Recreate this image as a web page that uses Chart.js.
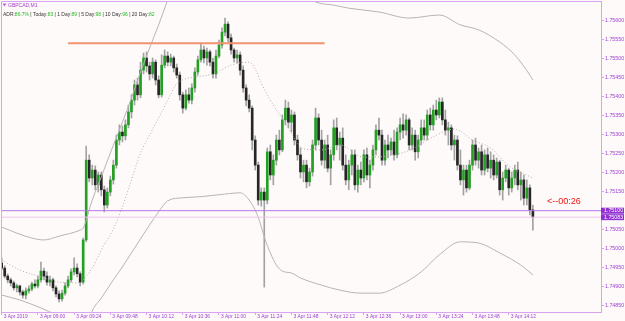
<!DOCTYPE html>
<html><head><meta charset="utf-8">
<script src="https://cdn.jsdelivr.net/npm/chart.js@4.4.0/dist/chart.umd.min.js"></script>
<style>html,body{margin:0;padding:0;background:#fffafa;overflow:hidden}canvas{display:block;background:#fffafa}</style>
</head><body>
<canvas id="c" width="625" height="321"></canvas>
<script>
// ---- data (GBPCAD, 2-minute candles, 3 Apr 2019 08:36 .. 14:28) ----
const opens=[
1.74962,1.74949,1.74928,1.74918,1.74910,1.74897,1.74902,1.74886,1.74878,1.74889,
1.74894,1.74907,1.74902,1.74918,1.74941,1.74928,1.74912,1.74918,1.74897,1.74881,
1.74868,1.74883,1.74902,1.74918,1.74939,1.74949,1.74934,1.74912,1.75023,1.75233,
1.75186,1.75207,1.75168,1.75194,1.75155,1.75115,1.75149,1.75181,1.75220,1.75286,
1.75307,1.75297,1.75326,1.75360,1.75391,1.75431,1.75405,1.75470,1.75502,1.75481,
1.75460,1.75491,1.75444,1.75405,1.75483,1.75507,1.75491,1.75502,1.75476,1.75457,
1.75405,1.75370,1.75405,1.75391,1.75423,1.75465,1.75497,1.75523,1.75502,1.75518,
1.75491,1.75460,1.75507,1.75536,1.75570,1.75591,1.75555,1.75523,1.75502,1.75510,
1.75470,1.75423,1.75391,1.75370,1.75286,1.75220,1.75128,1.75149,1.75128,1.75255,
1.75194,1.75233,1.75286,1.75260,1.75339,1.75370,1.75333,1.75352,1.75286,1.75247,
1.75202,1.75220,1.75176,1.75202,1.75273,1.75344,1.75286,1.75233,1.75273,1.75212,
1.75247,1.75318,1.75273,1.75291,1.75220,1.75181,1.75220,1.75247,1.75168,1.75207,
1.75186,1.75247,1.75194,1.75220,1.75260,1.75312,1.75299,1.75233,1.75273,1.75260,
1.75281,1.75247,1.75307,1.75326,1.75312,1.75339,1.75273,1.75299,1.75255,1.75286,
1.75318,1.75299,1.75352,1.75326,1.75365,1.75352,1.75386,1.75339,1.75312,1.75318,
1.75273,1.75286,1.75220,1.75181,1.75207,1.75160,1.75220,1.75273,1.75233,1.75255,
1.75207,1.75247,1.75212,1.75233,1.75194,1.75228,1.75155,1.75186,1.75207,1.75160,
1.75186,1.75207,1.75168,1.75181,1.75133,1.75160,1.75102];
const highs=[
1.74976,1.74955,1.74934,1.74923,1.74915,1.74907,1.74904,1.74891,1.74897,1.74902,
1.74912,1.74918,1.74928,1.74965,1.74949,1.74939,1.74928,1.74923,1.74902,1.74889,
1.74891,1.74910,1.74928,1.74947,1.74976,1.74960,1.74939,1.75028,1.75270,1.75247,
1.75220,1.75218,1.75202,1.75202,1.75165,1.75160,1.75191,1.75233,1.75299,1.75326,
1.75323,1.75339,1.75378,1.75405,1.75444,1.75449,1.75491,1.75515,1.75518,1.75491,
1.75502,1.75497,1.75455,1.75510,1.75523,1.75518,1.75512,1.75507,1.75486,1.75465,
1.75412,1.75418,1.75423,1.75434,1.75476,1.75507,1.75541,1.75533,1.75528,1.75523,
1.75502,1.75523,1.75549,1.75581,1.75607,1.75597,1.75565,1.75528,1.75523,1.75518,
1.75481,1.75431,1.75405,1.75376,1.75297,1.75228,1.75160,1.75160,1.75265,1.75273,
1.75247,1.75299,1.75312,1.75352,1.75391,1.75386,1.75365,1.75360,1.75299,1.75265,
1.75233,1.75233,1.75212,1.75286,1.75370,1.75355,1.75312,1.75286,1.75299,1.75260,
1.75339,1.75344,1.75307,1.75318,1.75247,1.75233,1.75260,1.75260,1.75220,1.75228,
1.75260,1.75265,1.75233,1.75273,1.75326,1.75344,1.75312,1.75286,1.75299,1.75291,
1.75312,1.75318,1.75344,1.75355,1.75352,1.75344,1.75318,1.75312,1.75299,1.75339,
1.75339,1.75365,1.75370,1.75378,1.75391,1.75397,1.75397,1.75365,1.75333,1.75326,
1.75299,1.75297,1.75260,1.75220,1.75220,1.75233,1.75286,1.75291,1.75265,1.75273,
1.75260,1.75265,1.75255,1.75247,1.75239,1.75233,1.75202,1.75220,1.75212,1.75202,
1.75220,1.75228,1.75202,1.75194,1.75181,1.75168,1.75115];
const lows=[
1.74944,1.74923,1.74910,1.74902,1.74891,1.74886,1.74878,1.74870,1.74868,1.74883,
1.74889,1.74897,1.74897,1.74912,1.74918,1.74904,1.74902,1.74889,1.74873,1.74860,
1.74862,1.74878,1.74897,1.74912,1.74931,1.74926,1.74902,1.74907,1.75018,1.75176,
1.75168,1.75155,1.75149,1.75139,1.75097,1.75107,1.75139,1.75170,1.75212,1.75273,
1.75281,1.75286,1.75318,1.75344,1.75378,1.75391,1.75397,1.75460,1.75465,1.75444,
1.75449,1.75431,1.75397,1.75399,1.75476,1.75481,1.75481,1.75465,1.75449,1.75391,
1.75357,1.75365,1.75383,1.75381,1.75412,1.75457,1.75491,1.75489,1.75483,1.75481,
1.75449,1.75449,1.75502,1.75528,1.75560,1.75544,1.75512,1.75491,1.75489,1.75457,
1.75412,1.75376,1.75360,1.75260,1.75207,1.75115,1.75112,1.74899,1.75118,1.75181,
1.75168,1.75220,1.75247,1.75255,1.75326,1.75318,1.75307,1.75273,1.75233,1.75186,
1.75176,1.75160,1.75165,1.75191,1.75260,1.75273,1.75220,1.75212,1.75202,1.75168,
1.75233,1.75260,1.75233,1.75207,1.75168,1.75155,1.75194,1.75155,1.75149,1.75168,
1.75176,1.75181,1.75160,1.75207,1.75247,1.75286,1.75220,1.75220,1.75239,1.75247,
1.75233,1.75239,1.75286,1.75291,1.75299,1.75260,1.75260,1.75233,1.75239,1.75273,
1.75286,1.75286,1.75312,1.75312,1.75339,1.75344,1.75326,1.75299,1.75273,1.75260,
1.75233,1.75207,1.75168,1.75141,1.75149,1.75155,1.75207,1.75220,1.75212,1.75194,
1.75194,1.75202,1.75186,1.75181,1.75186,1.75141,1.75128,1.75176,1.75141,1.75149,
1.75168,1.75155,1.75128,1.75115,1.75115,1.75089,1.75049];
const closes=[
1.74949,1.74928,1.74918,1.74910,1.74897,1.74902,1.74886,1.74878,1.74889,1.74894,
1.74907,1.74902,1.74918,1.74941,1.74928,1.74912,1.74918,1.74897,1.74881,1.74868,
1.74883,1.74902,1.74918,1.74939,1.74949,1.74934,1.74912,1.75023,1.75233,1.75186,
1.75207,1.75168,1.75194,1.75155,1.75115,1.75149,1.75181,1.75220,1.75286,1.75307,
1.75297,1.75326,1.75360,1.75391,1.75431,1.75405,1.75470,1.75502,1.75481,1.75460,
1.75491,1.75444,1.75405,1.75483,1.75507,1.75491,1.75502,1.75476,1.75457,1.75405,
1.75370,1.75405,1.75391,1.75423,1.75465,1.75497,1.75523,1.75502,1.75518,1.75491,
1.75460,1.75507,1.75536,1.75570,1.75591,1.75555,1.75523,1.75502,1.75510,1.75470,
1.75423,1.75391,1.75370,1.75286,1.75220,1.75128,1.75149,1.75128,1.75255,1.75194,
1.75233,1.75286,1.75260,1.75339,1.75370,1.75333,1.75352,1.75286,1.75247,1.75202,
1.75220,1.75176,1.75202,1.75273,1.75344,1.75286,1.75233,1.75273,1.75212,1.75247,
1.75318,1.75273,1.75291,1.75220,1.75181,1.75220,1.75247,1.75168,1.75207,1.75186,
1.75247,1.75194,1.75220,1.75260,1.75312,1.75299,1.75233,1.75273,1.75260,1.75281,
1.75247,1.75307,1.75326,1.75312,1.75339,1.75273,1.75299,1.75255,1.75286,1.75318,
1.75299,1.75352,1.75326,1.75365,1.75352,1.75386,1.75339,1.75312,1.75318,1.75273,
1.75286,1.75220,1.75181,1.75207,1.75160,1.75220,1.75273,1.75233,1.75255,1.75207,
1.75247,1.75212,1.75233,1.75194,1.75228,1.75155,1.75186,1.75207,1.75160,1.75186,
1.75207,1.75168,1.75181,1.75133,1.75160,1.75102,1.75083];

// Bollinger bands read at selected bars (bar index, price)
const bbUpperIdx=[0,5,10,14,19,26,27,30,33,36,40,43,46,49,52,55,58,64,72,80,86,92,98,103,105,110,115,125,135,145,152,158,165,170,175,176];
const bbUpper=[1.75057,1.75041,1.75028,1.75023,1.75033,1.75049,1.75054,1.75128,1.75189,1.75252,1.75333,1.75397,1.75465,1.75528,1.75589,1.75655,1.75720,1.75786,1.75773,1.75733,1.75733,1.75773,1.75733,1.75655,1.75647,1.75641,1.75633,1.75623,1.75607,1.75615,1.75589,1.75576,1.75544,1.75510,1.75457,1.75444];
const bbMidIdx=[0,6,13,19,26,27,30,33,37,40,43,46,49,52,55,58,61,64,70,76,82,84,86,90,94,100,106,112,120,128,136,144,150,156,162,168,176];
const bbMid=[1.74970,1.74944,1.74926,1.74912,1.74910,1.74918,1.74949,1.74997,1.75052,1.75110,1.75181,1.75252,1.75299,1.75344,1.75391,1.75434,1.75447,1.75452,1.75460,1.75483,1.75491,1.75473,1.75436,1.75378,1.75331,1.75263,1.75260,1.75273,1.75241,1.75244,1.75262,1.75299,1.75315,1.75286,1.75265,1.75218,1.75186];
const bbLowerIdx=[0,6,13,18,25,28,30,33,37,40,46,52,55,60,66,72,79,82,85,87,89,91,93,96,99,106,112,119,125,132,139,145,152,158,165,172,176];
const bbLower=[1.74878,1.74865,1.74844,1.74826,1.74800,1.74786,1.74836,1.74870,1.74918,1.74952,1.75026,1.75097,1.75126,1.75134,1.75137,1.75142,1.75147,1.75128,1.75083,1.75031,1.74989,1.74957,1.74941,1.74936,1.74923,1.74904,1.74891,1.74883,1.74883,1.74904,1.74939,1.74984,1.75018,1.75015,1.74989,1.74957,1.74931];

const levelPrice=1.75541, levelFrom=22, levelTo=107;
const askPrice=1.75100, bidPrice=1.75083;
const xTickLabels=['3 Apr 2019','3 Apr 09:00','3 Apr 09:24','3 Apr 09:48','3 Apr 10:12','3 Apr 10:36','3 Apr 11:00','3 Apr 11:24','3 Apr 11:48','3 Apr 12:12','3 Apr 12:36','3 Apr 13:00','3 Apr 13:24','3 Apr 13:48','3 Apr 14:12'];
const xTickStep=12;
const yTickValues=[1.7485,1.7490,1.7495,1.7500,1.7505,1.7515,1.7520,1.7525,1.7530,1.7535,1.7540,1.7545,1.7550,1.7555,1.7560];
const symbolTitle='GBPCAD,M1';
const adrParts=[['ADR:',0],['86.7%',1],[' | Today:',0],['83',1],[' | 1 Day:',0],['89',1],[' | 5 Day:',0],['98',1],[' | 10 Day:',0],['96',1],[' | 20 Day:',0],['82',1]];
const countdownText='<--00:26';

// ---- styles ----
const BULL='#23a023', BEAR='#262626', WICK='#a2a2a2';
const FRAME='#d9a3f2', LABEL='#9a3fd0', FONT='"Liberation Sans", Arial, sans-serif';

const pts=(idx,vals)=>idx.map((x,k)=>({x:x,y:vals[k]}));

const decor={
  id:'decor',
  afterDraw(chart){
    const ctx=chart.ctx, ca=chart.chartArea, ys=chart.scales.y;
    ctx.save();
    ctx.strokeStyle=FRAME; ctx.lineWidth=1;
    ctx.beginPath();
    ctx.moveTo(ca.left+0.5, ca.bottom); ctx.lineTo(ca.left+0.5, ca.top+0.5); ctx.lineTo(ca.right, ca.top+0.5);
    ctx.stroke();
    // price boxes
    ctx.font='5.3px '+FONT; ctx.textBaseline='middle'; ctx.textAlign='left';
    [[askPrice,-0.5],[bidPrice,0.5]].forEach(([p,d])=>{
      const y=ys.getPixelForValue(p);
      const cy = d<0 ? Math.min(y, ys.getPixelForValue(bidPrice)-5) : Math.max(y, ys.getPixelForValue(askPrice)+5);
      ctx.fillStyle='#9030d0'; ctx.fillRect(ca.right, cy-3, 23, 6);
      ctx.fillStyle='#ffffff'; ctx.fillText(p.toFixed(5), ca.right+3, cy+0.3);
    });
    // countdown
    ctx.font='9px '+FONT; ctx.fillStyle='#ee1111'; ctx.textBaseline='middle';
    ctx.fillText(countdownText, 547, 201.5);
    // header
    ctx.fillStyle='#c060e0';
    ctx.beginPath(); ctx.moveTo(2.5,3.5); ctx.lineTo(6.5,3.5); ctx.lineTo(4.5,6.5); ctx.closePath(); ctx.fill();
    ctx.font='5px '+FONT; ctx.fillStyle='#a040c8';
    ctx.fillText(symbolTitle, 8, 5.5);
    ctx.font='5px '+FONT;
    let total=adrParts.reduce((s,p)=>s+ctx.measureText(p[0]).width,0);
    const fs=5*152/total;
    ctx.font=fs.toFixed(2)+'px '+FONT;
    let x=3;
    adrParts.forEach(([t,g])=>{ctx.fillStyle=g?'#22bb22':'#333333'; ctx.fillText(t,x,15); x+=ctx.measureText(t).width;});
    ctx.restore();
  }
};

new Chart(document.getElementById('c'),{
  type:'bar',
  data:{datasets:[
    {type:'line',label:'level',data:[{x:levelFrom,y:levelPrice},{x:levelTo,y:levelPrice}],borderColor:'#f3926f',borderWidth:2,pointRadius:0,order:0},
    {type:'line',label:'ask',data:[{x:-5,y:askPrice},{x:205,y:askPrice}],borderColor:'#b676ea',borderWidth:1,pointRadius:0,order:0},
    {type:'line',label:'bid',data:[{x:-5,y:bidPrice},{x:205,y:bidPrice}],borderColor:'#eec2f4',borderWidth:1,pointRadius:0,order:0},
    {type:'line',label:'upper',data:pts(bbUpperIdx,bbUpper),borderColor:'#b8b4b4',borderWidth:1,pointRadius:0,cubicInterpolationMode:'monotone',order:1},
    {type:'line',label:'mid',data:pts(bbMidIdx,bbMid),borderColor:'#b0acac',borderWidth:1,borderDash:[1,2],pointRadius:0,cubicInterpolationMode:'monotone',order:1},
    {type:'line',label:'lower',data:pts(bbLowerIdx,bbLower),borderColor:'#b8b4b4',borderWidth:1,pointRadius:0,cubicInterpolationMode:'monotone',order:1},
    {type:'bar',label:'body',data:closes.map((c,i)=>({x:i,y:[opens[i],c]})),
      backgroundColor:ctx=>closes[ctx.dataIndex]>=opens[ctx.dataIndex]?BULL:BEAR,
      barThickness:2,grouped:false,minBarLength:1,order:2},
    {type:'bar',label:'wick',data:closes.map((c,i)=>({x:i,y:[lows[i],highs[i]]})),
      backgroundColor:WICK,barThickness:1,grouped:false,order:3}
  ]},
  options:{
    responsive:false,animation:false,devicePixelRatio:1,
    layout:{padding:{left:1,top:1,right:0,bottom:0}},
    plugins:{legend:{display:false},tooltip:{enabled:false}},
    scales:{
      x:{type:'linear',position:'bottom',min:-0.23,max:198.57,offset:false,
        grid:{offset:false,drawOnChartArea:false,drawTicks:true,tickLength:3,color:FRAME},
        border:{display:true,color:FRAME,width:1},
        ticks:{autoSkip:false,maxRotation:0,minRotation:0,align:'start',labelOffset:2,padding:-1,
          color:LABEL,font:{family:FONT,size:4.9},callback:(v,i)=>xTickLabels[i]},
        afterBuildTicks:s=>{s.ticks=xTickLabels.map((_,k)=>({value:k*xTickStep}));},
        afterFit:s=>{s.height=9;s.paddingLeft=0;s.paddingRight=0;}
      },
      y:{type:'linear',position:'right',min:1.748334,max:1.756519,
        grid:{drawOnChartArea:false,drawTicks:true,tickLength:3,color:FRAME},
        border:{display:true,color:FRAME,width:1},
        ticks:{padding:1,color:LABEL,font:{family:FONT,size:5.3},callback:v=>v.toFixed(5)},
        afterBuildTicks:s=>{s.ticks=yTickValues.map(v=>({value:v}));},
        afterFit:s=>{s.width=24;s.paddingTop=0;s.paddingBottom=0;}
      }
    }
  },
  plugins:[decor]
});
</script>
</body></html>
